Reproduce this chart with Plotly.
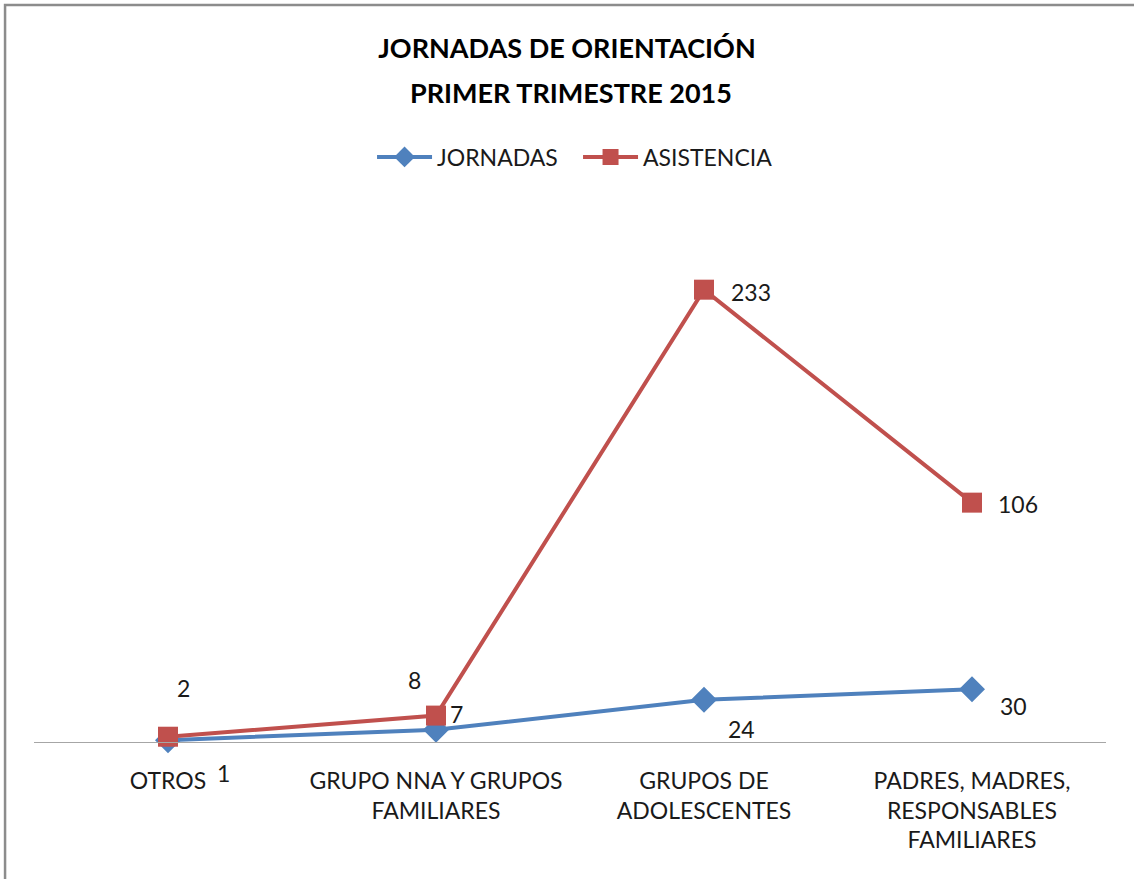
import plotly.graph_objects as go
import numpy as np

# categories and series values (Excel stacked line chart)
categorias = ["OTROS", "GRUPO NNA Y GRUPOS<br>FAMILIARES", "GRUPOS DE<br>ADOLESCENTES",
              "PADRES, MADRES,<br>RESPONSABLES<br>FAMILIARES"]
jornadas = [1, 7, 24, 30]
asistencia = [2, 8, 233, 106]

AZUL = "#4F81BD"
ROJO = "#C0504D"
FUENTE = "Lato"
TEXTO = "#1a1a1a"

fig = go.Figure()

fig.add_trace(go.Scatter(
    x=categorias, y=jornadas, name="JORNADAS", stackgroup="uno", fill="none",
    mode="lines+markers", line=dict(color=AZUL, width=4),
    marker=dict(symbol="diamond", size=20, color=AZUL), cliponaxis=False,
))
fig.add_trace(go.Scatter(
    x=categorias, y=asistencia, name="ASISTENCIA", stackgroup="uno", fill="none",
    mode="lines+markers", line=dict(color=ROJO, width=4),
    marker=dict(symbol="square", size=20, color=ROJO), cliponaxis=False,
))

# data labels: stacked positions, pixel offsets copied from the original layout
apilado = np.cumsum([jornadas, asistencia], axis=0)
desp_jornadas = [(55, -33), (20, 16), (37, -29), (41, -17)]
desp_asistencia = [(15, 49), (-22, 36), (47, -2), (46, -1)]

anotaciones = []
for serie, ys, desp in [(jornadas, apilado[0], desp_jornadas),
                        (asistencia, apilado[1], desp_asistencia)]:
    for cat, v, y, (dx, dy) in zip(categorias, serie, ys, desp):
        anotaciones.append(dict(
            x=cat, y=y, text=str(v), showarrow=False, xshift=dx, yshift=dy,
            font=dict(family=FUENTE, size=23, color=TEXTO),
        ))

# second title line (Excel spaces the two lines wider than plotly does)
anotaciones.append(dict(
    text="<b>PRIMER TRIMESTRE 2015</b>", xref="paper", yref="paper",
    x=0.501, y=1.231, xanchor="center", yanchor="middle", showarrow=False,
    font=dict(family=FUENTE, size=27, color="black"),
))

fig.update_layout(
    width=1134, height=879, autosize=False,
    margin=dict(l=34, r=28, t=214, b=137),
    paper_bgcolor="white", plot_bgcolor="white",
    title=dict(
        text="<b>JORNADAS DE ORIENTACIÓN</b>",
        x=0.5, xanchor="center", y=0.945, yanchor="middle",
        font=dict(family=FUENTE, size=27, color="black"),
    ),
    showlegend=True,
    legend=dict(
        orientation="h", x=0.5075, xanchor="center", y=1.108, yanchor="middle",
        traceorder="normal", itemwidth=55, entrywidth=136, entrywidthmode="pixels",
        font=dict(family=FUENTE, size=23, color=TEXTO),
    ),
    annotations=anotaciones,
    shapes=[dict(type="rect", xref="paper", yref="paper",
                 x0=-0.027, y0=-0.5, x1=1.2, y1=1.396,
                 line=dict(color="#8c8c8c", width=2.5))],
)

fig.update_xaxes(
    range=[-0.5, 3.5], showgrid=False, zeroline=False,
    showline=True, linecolor="#a6a6a6", linewidth=1,
    ticks="", ticklabelstandoff=18,
    tickfont=dict(family=FUENTE, size=23, color=TEXTO),
)
fig.update_yaxes(range=[0, 300], visible=False)

fig.write_html("out.html", config={"displayModeBar": False},
               post_script="document.body.style.margin = '0';")
